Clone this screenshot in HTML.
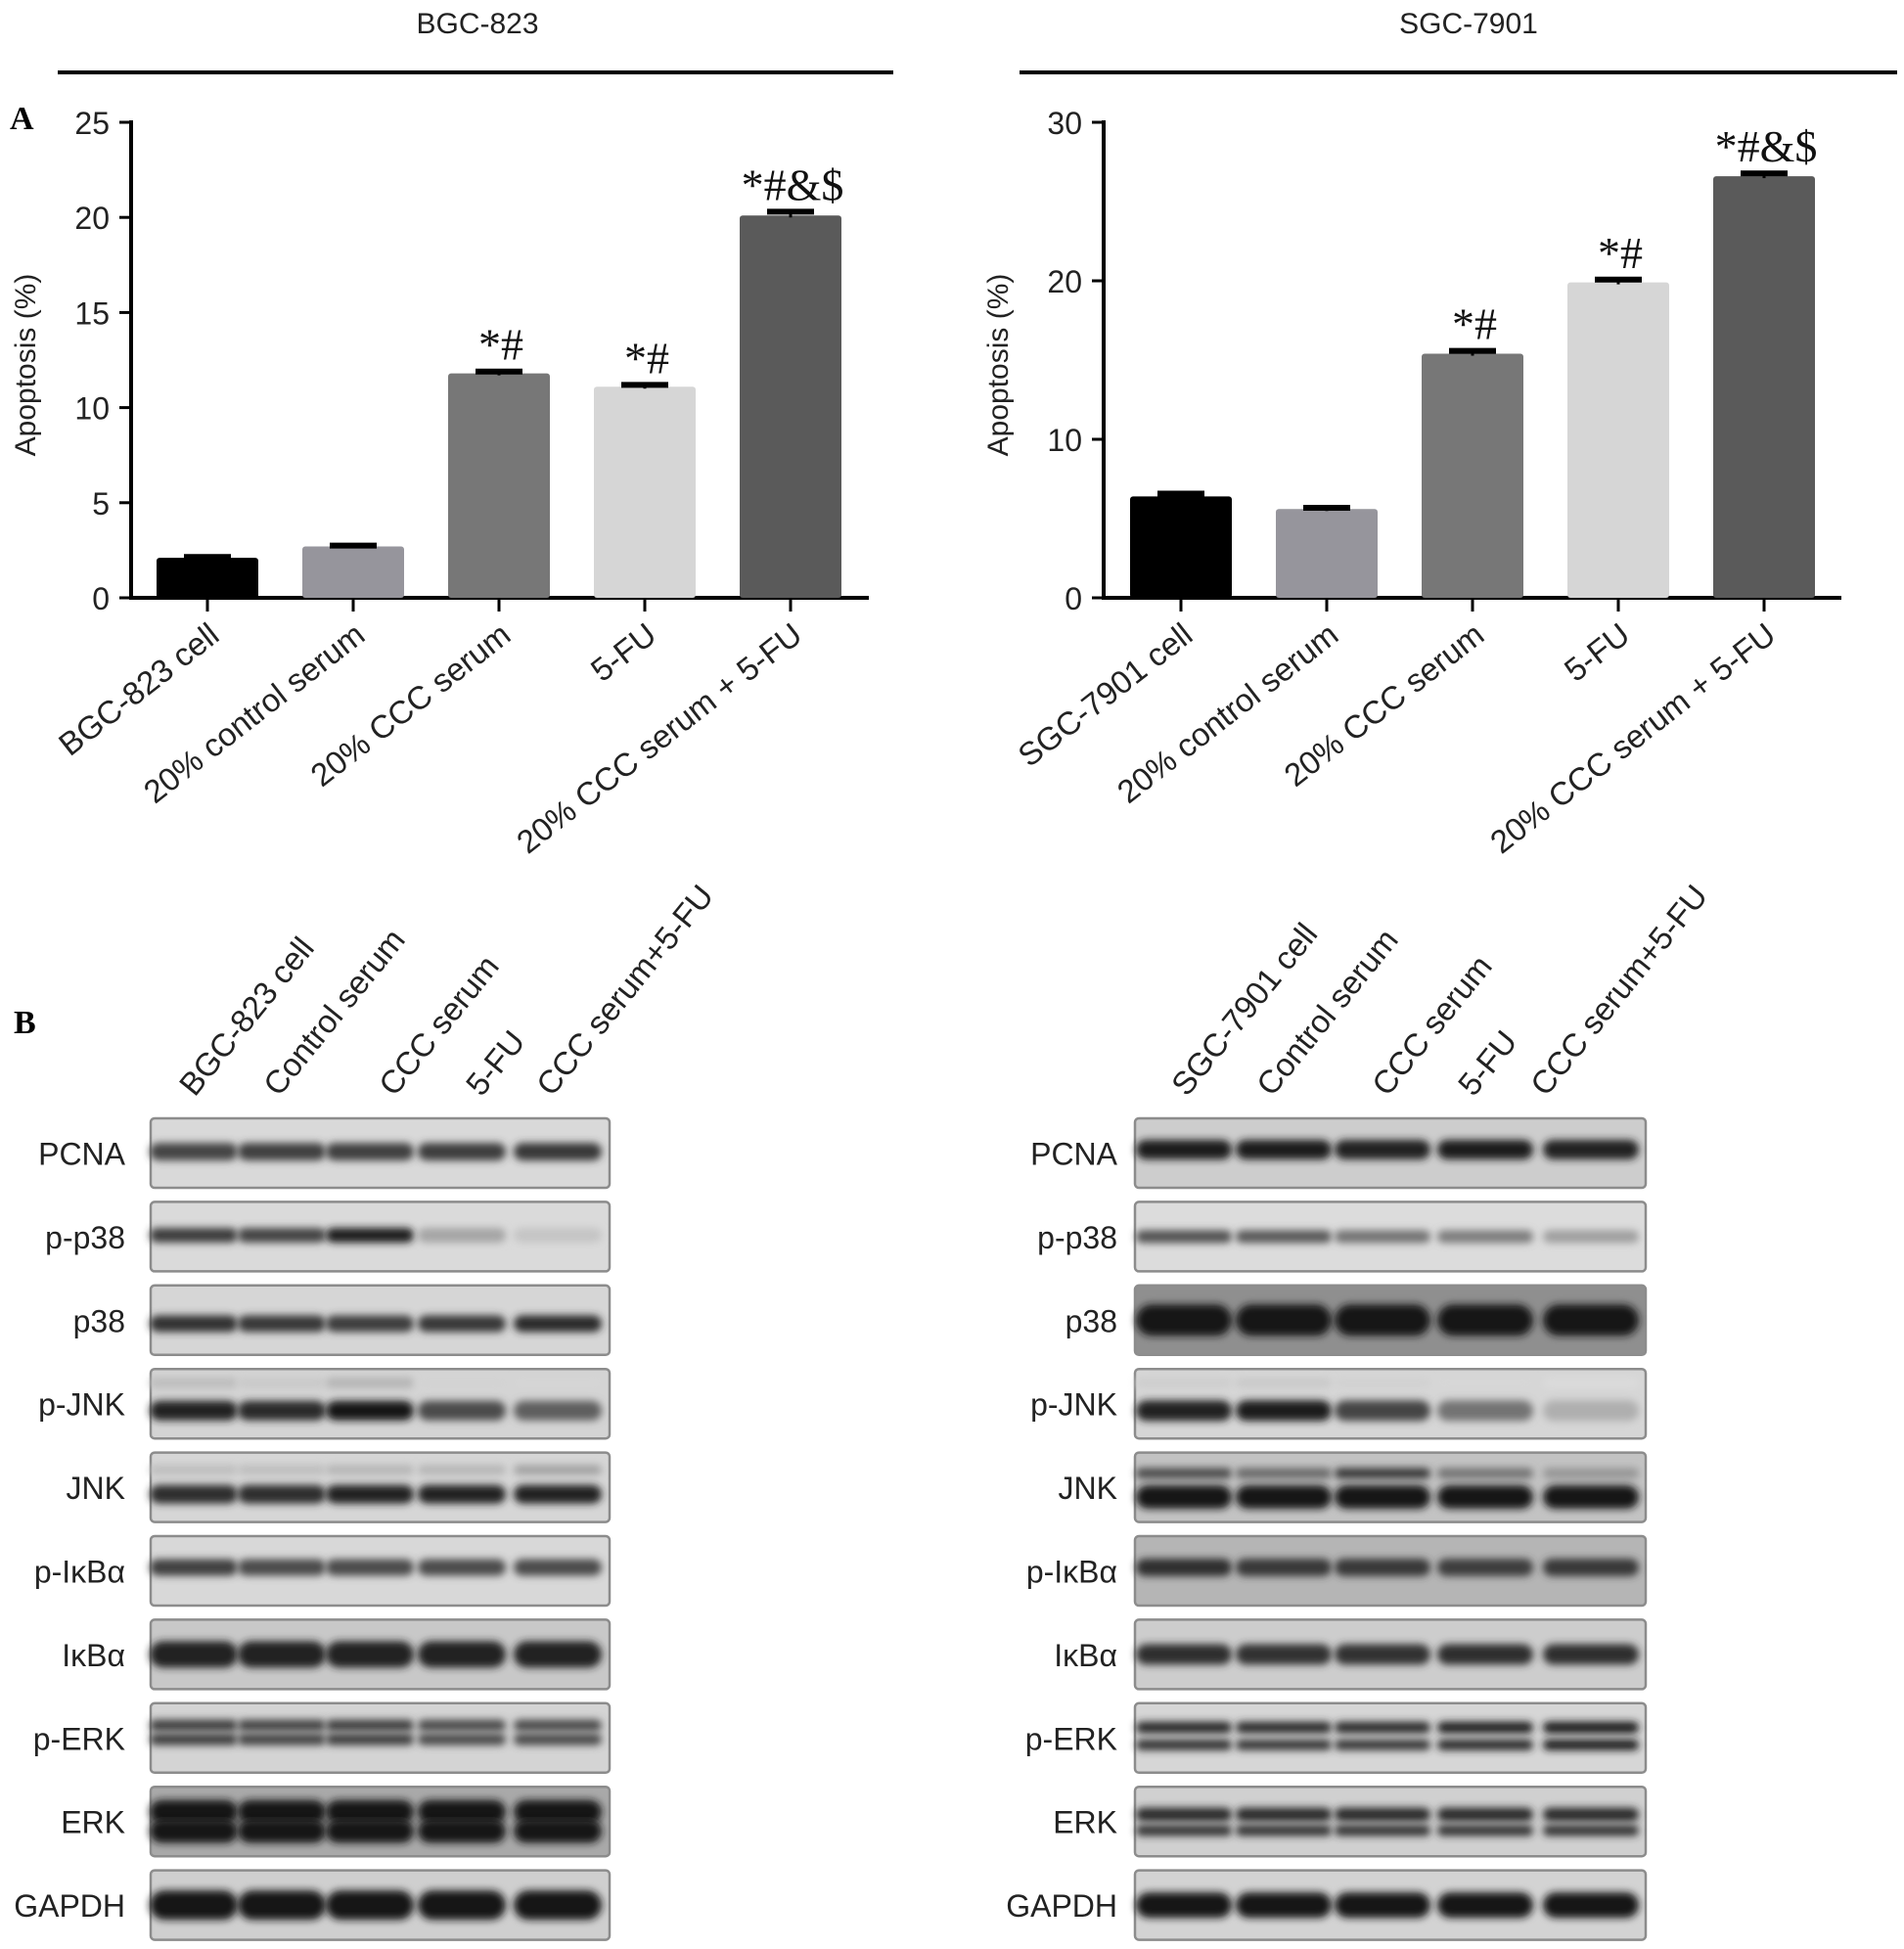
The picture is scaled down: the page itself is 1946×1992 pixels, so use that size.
<!DOCTYPE html>
<html><head><meta charset="utf-8">
<style>
html,body{margin:0;padding:0;background:#fff;}
svg{display:block;font-family:"Liberation Sans",Arial,sans-serif;}
</style></head>
<body>
<svg id="fig" width="1946" height="1992" viewBox="0 0 1946 1992" xmlns="http://www.w3.org/2000/svg">
<defs>
<filter id="blur" x="-20%" y="-150%" width="140%" height="400%"><feGaussianBlur stdDeviation="4"/></filter>
</defs>
<g id="charts"></g>
<g id="blots"></g>
</svg>
<script>
// ---- Chart data ----
const categoriesBGC = ["BGC-823 cell","20% control serum","20% CCC serum","5-FU","20% CCC serum + 5-FU"];
const valuesBGC = [2.1, 2.7, 11.8, 11.1, 20.1];
const errorsBGC = [0.15, 0.15, 0.2, 0.2, 0.3];
const ticksBGC = [0, 5, 10, 15, 20, 25];
const marksBGC = ["", "", "*#", "*#", "*#&$"];

const categoriesSGC = ["SGC-7901 cell","20% control serum","20% CCC serum","5-FU","20% CCC serum + 5-FU"];
const valuesSGC = [6.4, 5.6, 15.4, 19.9, 26.6];
const errorsSGC = [0.3, 0.2, 0.3, 0.3, 0.3];
const ticksSGC = [0, 10, 20, 30];
const marksSGC = ["", "", "*#", "*#", "*#&$"];

const barColors = ["#000000","#96959c","#777777","#d6d6d6","#5a5a5a"];

const NS = "http://www.w3.org/2000/svg";
function mk(tag, attrs, parent, text){
  const e = document.createElementNS(NS, tag);
  for (const k in attrs) e.setAttribute(k, attrs[k]);
  if (text !== undefined) e.textContent = text;
  parent.appendChild(e);
  return e;
}

function drawChart(cfg){
  const g = mk("g", {}, document.getElementById("charts"));
  
  
  const y0 = 611, yTop = 125;
  const ymax = cfg.ticks[cfg.ticks.length-1];
  const yS = v => y0 - (v / ymax) * (y0 - yTop);
  const xS = i => cfg.x0 + i * cfg.step;

  const t = mk("text", {x: cfg.titleX, y: 34, "font-size": 30, "text-anchor": "middle", fill: "#222"}, g, cfg.title);
  
  
  const hl = mk("line", {x1: cfg.lineX1, x2: cfg.lineX2, y1: 74, y2: 74, stroke: "#000", "stroke-width": 4}, g);
  
  

  const ya = mk("line", {x1: cfg.axisX, x2: cfg.axisX, y1: yTop - 2, y2: y0 + 2, stroke: "#000", "stroke-width": 4}, g);
  
  
  const xa = mk("line", {x1: cfg.axisX - 2, x2: cfg.axisEnd, y1: y0, y2: y0, stroke: "#000", "stroke-width": 4}, g);
  
  

  cfg.ticks.forEach(v => {
    const y = yS(v);
    const tk = mk("line", {x1: cfg.axisX - 12, x2: cfg.axisX, y1: y, y2: y, stroke: "#000", "stroke-width": 3}, g);
    
    
    const tl = mk("text", {x: cfg.axisX - 22, y: y + 12, "font-size": 32, "text-anchor": "end", fill: "#222"}, g, String(v));
    
    
  });

  const yt = mk("text", {x: 0, y: 0, "font-size": 30, "text-anchor": "middle", fill: "#222",
    transform: `translate(${cfg.axisX - 98},${(y0 + yTop) / 2 + 5}) rotate(-90)`}, g, "Apoptosis (%)");
  
  

  cfg.values.forEach((v, i) => {
    const cx = xS(i), w = 104;
    const b = mk("rect", {x: cx - w/2, y: yS(v), width: w, height: y0 - yS(v), fill: barColors[i], rx: 3}, g);
    
    
    const eTop = yS(v + cfg.errors[i]);
    const eb = mk("line", {x1: cx - 24, x2: cx + 24, y1: eTop + 2, y2: eTop + 2, stroke: "#000", "stroke-width": 6}, g);
    
    
    const em = mk("line", {x1: cx, x2: cx, y1: eTop, y2: yS(v) + 2, stroke: "#000", "stroke-width": 3}, g);
    
    
    if (cfg.marks[i]) {
      const m = mk("text", {x: cx + 2, y: eTop - 10, "font-size": 46, "text-anchor": "middle", fill: "#111",
        "font-family": "'Liberation Serif', serif"}, g, cfg.marks[i]);
      
      
    }
    const xt = mk("line", {x1: cx, x2: cx, y1: y0, y2: y0 + 14, stroke: "#000", "stroke-width": 3}, g);
    
    
    const lab = mk("text", {x: 0, y: 0, "font-size": 33, "text-anchor": "end", fill: "#222",
      transform: `translate(${cx + 14},${y0 + 42}) rotate(-38)`}, g, cfg.cats[i]);
    
    
  });
}

drawChart({name: "chart-bgc823", title: "BGC-823", titleX: 488, lineX1: 59, lineX2: 913,
  axisX: 134, axisEnd: 888, x0: 212, step: 149,
  values: valuesBGC, errors: errorsBGC, ticks: ticksBGC, marks: marksBGC, cats: categoriesBGC});
drawChart({name: "chart-sgc7901", title: "SGC-7901", titleX: 1501, lineX1: 1042, lineX2: 1939,
  axisX: 1128, axisEnd: 1882, x0: 1207, step: 149,
  values: valuesSGC, errors: errorsSGC, ticks: ticksSGC, marks: marksSGC, cats: categoriesSGC});

const svg = document.getElementById("fig");
const pa = mk("text", {x: 10, y: 132, "font-size": 34, "font-weight": "bold", "font-family": "'Liberation Serif', serif"}, svg, "A");


const pb = mk("text", {x: 14, y: 1056, "font-size": 34, "font-weight": "bold", "font-family": "'Liberation Serif', serif"}, svg, "B");



// ---- Western blot data ----
const rowNames = ["PCNA","p-p38","p38","p-JNK","JNK","p-I\u03baB\u03b1","I\u03baB\u03b1","p-ERK","ERK","GAPDH"];
const lanesBGC = ["BGC-823 cell","Control serum","CCC serum","5-FU","CCC serum+5-FU"];
const lanesSGC = ["SGC-7901 cell","Control serum","CCC serum","5-FU","CCC serum+5-FU"];
// each band: [vertical position fraction, thickness, intensities per lane]
const bandsBGC = [
  [[0.48, 18, [0.78,0.8,0.8,0.82,0.85]]],
  [[0.48, 15, [0.82,0.78,0.98,0.3,0.14]]],
  [[0.55, 17, [0.88,0.85,0.82,0.85,0.92]]],
  [[0.2, 11, [0.18,0.12,0.22,0.07,0.06]],[0.6, 20, [0.95,0.92,1.0,0.75,0.65]]],
  [[0.25, 10, [0.18,0.18,0.22,0.22,0.32]],[0.6, 19, [0.9,0.9,0.95,0.95,0.95]]],
  [[0.45, 17, [0.8,0.75,0.75,0.75,0.75]]],
  [[0.5, 27, [0.95,0.95,0.95,0.95,0.95]]],
  [[0.32, 12, [0.8,0.78,0.8,0.75,0.75]],[0.52, 12, [0.8,0.78,0.8,0.75,0.75]]],
  [[0.36, 24, [1,1,1,1,1]],[0.64, 24, [1,1,1,1,1]]],
  [[0.5, 30, [1,1,1,1,1]]]
];
const bandsSGC = [
  [[0.45, 20, [0.98,0.98,0.95,0.98,0.95]]],
  [[0.5, 13, [0.72,0.68,0.55,0.5,0.33]]],
  [[0.5, 32, [1,1,1,1,1]]],
  [[0.2, 10, [0.1,0.12,0.08,0.05,0.03]],[0.6, 21, [0.95,0.98,0.78,0.55,0.25]]],
  [[0.3, 11, [0.75,0.6,0.85,0.55,0.38]],[0.64, 24, [1,1,1,1,1]]],
  [[0.45, 18, [0.9,0.85,0.85,0.82,0.85]]],
  [[0.5, 21, [0.9,0.88,0.88,0.9,0.9]]],
  [[0.35, 12, [0.92,0.9,0.9,0.95,0.98]],[0.6, 11, [0.88,0.85,0.85,0.92,0.98]]],
  [[0.4, 14, [0.92,0.92,0.92,0.92,0.92]],[0.63, 11, [0.88,0.88,0.88,0.88,0.88]]],
  [[0.5, 26, [1,1,1,1,1]]]
];
const bgBGC = ["#d9d9d9","#dadada","#d6d6d6","#d4d4d4","#d6d6d6","#d8d8d8","#c8c8c8","#d4d4d4","#a9a9a9","#cfcfcf"];
const bgSGC = ["#cdcdcd","#dcdcdc","#8f8f8f","#d6d6d6","#c3c3c3","#b5b5b5","#cdcdcd","#d6d6d6","#d0d0d0","#d3d3d3"];

function drawBlots(cfg){
  const g = mk("g", {}, document.getElementById("blots"));
  
  
  const top0 = 1143, step = 85.4, h = 71;
  cfg.lanes.forEach((l, i) => {
    const t = mk("text", {x: 0, y: 0, "font-size": 33, fill: "#222",
      transform: `translate(${cfg.labelStart[i]},${1122}) rotate(-51)`}, g, l);
    
    
  });
  cfg.rows.forEach((name, r) => {
    const top = top0 + r * step;
    const box = mk("rect", {x: cfg.x1, y: top, width: cfg.x2 - cfg.x1, height: h, rx: 4,
      fill: cfg.bg[r], stroke: "#8c8c8c", "stroke-width": 2.5}, g);
    
    
    const lab = mk("text", {x: cfg.labelX, y: top + h/2 + 12, "font-size": 32, "text-anchor": "end", fill: "#222"}, g, name);
    
    
    cfg.bands[r].forEach(b => {
      const [pos, thick, ints] = b;
      ints.forEach((v, i) => {
        const lv = Math.round(225 - 200 * v);
        const bw = cfg.bw;
        const band = mk("rect", {x: cfg.laneX[i] - bw/2, y: top + pos * h - thick/2, width: bw, height: thick,
          rx: thick/2, fill: `rgb(${lv},${lv},${lv})`, filter: "url(#blur)"}, g);
        
        
      });
    });
  });
}
drawBlots({name: "blots-bgc823", x1: 154, x2: 623, labelX: 128, rows: rowNames, lanes: lanesBGC, bw: 90,
  laneX: [198, 288, 378, 472, 570], labelStart: [199, 285, 403, 492, 564], bands: bandsBGC, bg: bgBGC});
drawBlots({name: "blots-sgc7901", x1: 1160, x2: 1682, labelX: 1142, rows: rowNames, lanes: lanesSGC, bw: 98,
  laneX: [1210, 1312, 1413, 1518, 1626], labelStart: [1213, 1300, 1418, 1506, 1580], bands: bandsSGC, bg: bgSGC});
</script>
</body></html>
